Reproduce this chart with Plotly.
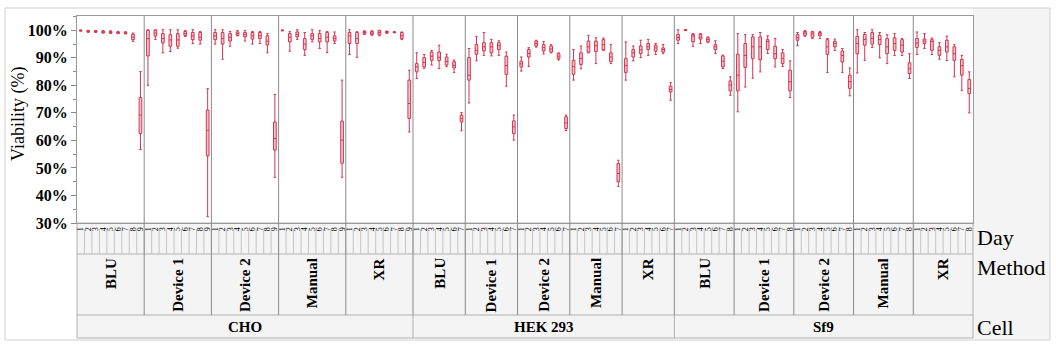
import plotly.graph_objects as go

CELLS = ["CHO", "HEK 293", "Sf9"]
METHODS = ["BLU", "Device 1", "Device 2", "Manual", "XR"]
DAYS = {"CHO": ["1", "2", "3", "4", "5", "6", "7", "8", "9"],
        "HEK 293": ["1", "2", "3", "4", "5", "6", "7"],
        "Sf9": ["1", "2", "3", "4", "5", "6", "7", "8"]}
Y_TICKS = [30, 40, 50, 60, 70, 80, 90, 100]
Y_TICK_TEXT = ["30%", "40%", "50%", "60%", "70%", "80%", "90%", "100%"]

# ---- CHO (methods in order BLU, Device 1, Device 2, Manual, XR; days 1-9) ----
CHO_LO = [99.7, 99.3, 99.2, 99.0, 98.9, 98.8, 98.7, 96.0, 56.7,
          80.0, 96.7, 91.8, 92.3, 93.5, 97.8, 95.2, 95.0, 32.3,
          95.0, 89.5, 94.2, 98.0, 96.1, 95.0, 95.2, 91.8, 46.6,
          99.8, 92.4, 96.7, 90.9, 95.8, 93.4, 91.9, 95.2, 46.6,
          91.2, 90.2, 98.5, 98.2, 98.0, 98.9, 99.1, 96.6, 63.1]
CHO_Q1 = [99.8, 99.4, 99.4, 99.1, 99.0, 98.9, 98.8, 96.6, 62.5,
          90.7, 97.9, 95.4, 94.2, 94.2, 98.1, 96.6, 96.4, 54.4,
          96.6, 95.0, 96.1, 98.2, 97.6, 96.8, 97.0, 94.7, 56.5,
          99.9, 95.8, 97.6, 93.0, 96.7, 95.8, 95.8, 96.1, 51.7,
          95.2, 95.2, 98.7, 98.5, 98.4, 99.1, 99.2, 97.0, 68.0]
CHO_MED = [100.0, 99.7, 99.6, 99.4, 99.3, 99.1, 99.0, 97.5, 69.2,
           97.0, 99.0, 97.0, 96.5, 96.5, 98.8, 98.0, 97.5, 63.7,
           98.0, 97.0, 97.5, 98.8, 98.4, 98.0, 98.0, 96.0, 60.7,
           100.0, 97.5, 98.5, 95.0, 98.0, 97.0, 97.5, 97.0, 60.1,
           98.0, 97.0, 99.2, 99.0, 99.2, 99.4, 99.3, 98.0, 73.4]
CHO_Q3 = [100.0, 99.9, 99.8, 99.7, 99.6, 99.4, 99.3, 98.6, 75.6,
          100.0, 100.0, 98.8, 98.4, 98.8, 99.6, 99.2, 99.2, 71.0,
          99.2, 99.2, 98.8, 99.4, 99.2, 99.2, 99.2, 98.0, 66.7,
          100.0, 98.8, 99.4, 97.0, 98.8, 98.8, 99.2, 98.0, 67.0,
          99.2, 99.2, 99.6, 99.6, 99.9, 99.6, 99.4, 99.2, 81.9]
CHO_HI = [100.1, 100.0, 99.9, 99.9, 99.8, 99.6, 99.5, 99.0, 85.0,
          100.2, 100.2, 100.2, 100.2, 100.2, 99.9, 100.2, 99.6, 78.8,
          100.2, 100.2, 99.6, 99.9, 99.9, 99.6, 99.6, 98.8, 76.7,
          100.1, 99.5, 100.2, 99.2, 100.2, 99.9, 99.6, 99.4, 81.9,
          100.2, 99.5, 99.8, 99.8, 100.0, 99.7, 99.5, 99.4, 85.5]

# ---- HEK 293 (days 1-7) ----
HEK_LO = [82.5, 86.2, 87.4, 86.1, 86.8, 84.7, 63.5,
          73.6, 88.9, 90.9, 90.7, 90.9, 79.7, 60.1,
          85.2, 86.9, 93.9, 91.4, 91.8, 89.2, 63.6,
          81.9, 86.0, 91.8, 87.9, 92.7, 87.9, 43.2,
          81.9, 88.9, 90.1, 90.9, 91.2, 91.5, 74.6]
HEK_Q1 = [84.9, 86.7, 89.1, 89.0, 87.4, 86.3, 66.7,
          81.9, 91.3, 92.5, 91.8, 93.0, 84.0, 62.5,
          86.7, 90.3, 94.3, 92.5, 92.1, 89.7, 64.3,
          84.0, 87.6, 92.1, 92.3, 93.0, 88.6, 45.0,
          84.7, 90.3, 91.5, 93.0, 92.4, 92.1, 77.6]
HEK_MED = [86.7, 88.3, 90.6, 90.2, 88.7, 87.2, 68.0,
           83.7, 92.7, 94.0, 94.0, 94.4, 87.2, 64.9,
           87.8, 91.6, 95.2, 93.7, 93.2, 90.6, 66.4,
           86.8, 89.8, 94.0, 94.4, 94.8, 90.3, 48.0,
           87.2, 91.8, 92.9, 94.0, 93.6, 93.0, 78.5]
HEK_Q3 = [87.9, 90.1, 92.1, 92.1, 90.3, 88.6, 69.2,
          90.1, 94.8, 95.5, 95.5, 95.5, 90.6, 67.1,
          88.8, 93.0, 96.1, 94.8, 94.3, 91.5, 68.6,
          89.1, 91.8, 96.1, 96.1, 96.6, 91.8, 51.6,
          89.7, 93.0, 94.3, 95.2, 94.6, 93.6, 79.7]
HEK_HI = [91.8, 91.2, 92.7, 94.6, 91.3, 89.2, 70.1,
          93.4, 97.8, 99.2, 96.7, 96.2, 92.1, 69.2,
          90.3, 93.7, 96.4, 95.9, 94.8, 91.8, 69.2,
          93.0, 94.3, 98.2, 97.3, 97.2, 94.9, 52.8,
          95.8, 94.3, 96.4, 96.7, 95.2, 94.8, 81.0]

# ---- Sf9 (days 1-8) ----
SF9_LO = [95.2, 99.9, 94.2, 95.2, 95.5, 91.6, 86.1, 76.4,
          70.4, 79.4, 82.6, 84.9, 91.6, 86.7, 86.9, 75.6,
          94.4, 97.8, 97.0, 97.0, 84.7, 92.7, 84.7, 76.2,
          84.5, 89.1, 93.8, 90.0, 87.9, 90.9, 90.9, 82.5,
          91.2, 93.4, 91.2, 89.5, 89.0, 83.1, 78.2, 70.0]
SF9_Q1 = [96.4, 100.0, 95.8, 96.8, 95.8, 93.0, 86.7, 78.0,
          78.0, 86.5, 89.7, 89.3, 93.0, 89.7, 87.9, 78.0,
          96.4, 98.2, 97.5, 98.0, 91.3, 94.0, 88.5, 78.9,
          91.5, 94.6, 95.0, 94.8, 91.5, 92.7, 92.1, 84.3,
          93.8, 95.2, 92.7, 90.9, 92.1, 89.1, 83.7, 77.0]
SF9_MED = [97.4, 100.1, 97.9, 97.5, 96.7, 94.0, 88.8, 80.1,
           83.7, 90.9, 94.0, 94.0, 95.9, 91.5, 89.8, 81.3,
           97.3, 99.0, 98.7, 98.7, 94.0, 95.2, 90.9, 81.3,
           95.2, 96.7, 97.0, 96.7, 94.0, 95.2, 94.6, 86.0,
           95.4, 96.1, 95.9, 92.7, 94.0, 91.5, 87.2, 78.9]
SF9_Q3 = [98.5, 100.2, 98.5, 98.5, 97.3, 94.8, 90.7, 81.6,
          91.3, 95.2, 97.6, 97.6, 96.6, 94.2, 91.8, 85.5,
          98.4, 99.6, 99.4, 99.2, 96.6, 96.0, 92.5, 83.7,
          97.8, 98.5, 99.2, 98.2, 97.0, 97.3, 96.6, 88.2,
          97.0, 96.8, 96.6, 94.0, 96.4, 94.0, 89.4, 82.1]
SF9_HI = [100.2, 100.3, 98.8, 98.8, 97.6, 96.2, 91.0, 83.1,
          98.8, 98.4, 98.4, 99.2, 98.0, 97.0, 93.0, 88.9,
          99.2, 99.9, 99.6, 99.6, 97.0, 96.8, 93.4, 86.3,
          100.2, 99.2, 100.2, 99.2, 98.4, 98.8, 97.0, 91.5,
          99.4, 98.8, 97.2, 95.5, 97.9, 94.8, 90.9, 84.9]

LO = CHO_LO + HEK_LO + SF9_LO
Q1 = CHO_Q1 + HEK_Q1 + SF9_Q1
MED = CHO_MED + HEK_MED + SF9_MED
Q3 = CHO_Q3 + HEK_Q3 + SF9_Q3
HI = CHO_HI + HEK_HI + SF9_HI

# ---- slot positions ----
xs, day_text = [], []
method_spans, cell_spans = [], []
pos = 0
for c in CELLS:
    c_start = pos
    for m in METHODS:
        m_start = pos
        for d in DAYS[c]:
            xs.append(pos)
            day_text.append(d)
            pos += 1
        method_spans.append((m, m_start - 0.5, pos - 0.5))
    cell_spans.append((c, c_start - 0.5, pos - 0.5))
N = pos

# ---- geometry (pixels) ----
W, H = 1056, 351
L, R, T, B = 77, 83, 16, 128
PW, PH = W - L - R, H - T - B


def py(ypix):
    return (H - B - ypix) / PH


def px(xpix):
    return (xpix - L) / PW


SERIF = "Liberation Serif, Times New Roman, serif"
BOX_LINE = "#d4354f"
BAND_BG = "#f4f4f4"

fig = go.Figure()
fig.add_trace(go.Box(
    x=xs, q1=Q1, median=MED, q3=Q3, lowerfence=LO, upperfence=HI,
    boxpoints=False, width=0.36, whiskerwidth=0.9,
    line=dict(color=BOX_LINE, width=1),
    fillcolor="rgba(220,70,95,0.30)", showlegend=False, hoverinfo="skip",
))

shapes = []
# right gray region
shapes.append(dict(type="rect", xref="paper", yref="paper",
                   x0=1, x1=px(1050), y0=py(339), y1=py(8),
                   fillcolor=BAND_BG, line=dict(width=0), layer="below"))
# bands
y_day_top, y_day_bot = py(223), py(254)
y_meth_bot = py(315)
y_cell_bot = py(338)
shapes.append(dict(type="rect", xref="paper", yref="paper",
                   x0=0, x1=1, y0=y_cell_bot, y1=y_day_top,
                   fillcolor=BAND_BG, line=dict(color="#b0b0b0", width=1), layer="below"))
shapes.append(dict(type="line", xref="paper", yref="paper",
                   x0=0, x1=1, y0=y_day_bot, y1=y_day_bot,
                   line=dict(color="#b0b0b0", width=1)))
shapes.append(dict(type="line", xref="paper", yref="paper",
                   x0=0, x1=1, y0=y_meth_bot, y1=y_meth_bot,
                   line=dict(color="#b0b0b0", width=1)))
# day separators
for x in xs:
    shapes.append(dict(type="line", xref="x", yref="paper",
                       x0=x + 0.5, x1=x + 0.5, y0=py(229), y1=y_day_bot,
                       line=dict(color="#c4c4c4", width=1)))
# method separators (plot + bands)
for (m, a, b) in method_spans[:-1]:
    shapes.append(dict(type="line", xref="x", yref="paper",
                       x0=b, x1=b, y0=y_meth_bot, y1=1,
                       line=dict(color="#8a8a8a", width=1)))
for (c, a, b) in cell_spans[:-1]:
    shapes.append(dict(type="line", xref="x", yref="paper",
                       x0=b, x1=b, y0=y_cell_bot, y1=y_meth_bot,
                       line=dict(color="#b0b0b0", width=1)))
# outer frame
shapes.append(dict(type="rect", xref="paper", yref="paper",
                   x0=px(5), x1=px(1050), y0=py(340), y1=py(8),
                   fillcolor="rgba(0,0,0,0)", line=dict(color="#cfcfcf", width=1)))

annotations = []
for (m, a, b) in method_spans:
    annotations.append(dict(x=(a + b) / 2, xref="x", y=py(256), yref="paper",
                            text=m, textangle=-90, showarrow=False,
                            xanchor="center", yanchor="top",
                            font=dict(family=SERIF, size=15, color="#000", weight="bold")))
for (c, a, b) in cell_spans:
    annotations.append(dict(x=(a + b) / 2, xref="x", y=py(326.5), yref="paper",
                            text=c, showarrow=False, xanchor="center", yanchor="middle",
                            font=dict(family=SERIF, size=15, color="#000", weight="bold")))
for (t, yy) in [("Day", 237), ("Method", 267), ("Cell", 327)]:
    annotations.append(dict(x=px(975), xref="paper", y=py(yy), yref="paper",
                            text=t, showarrow=False, xanchor="left", yanchor="middle",
                            font=dict(family=SERIF, size=22, color="#000")))
# y-axis title as annotation (keeps plot area fixed)
annotations.append(dict(x=px(18), xref="paper", y=py(114), yref="paper",
                        text="Viability (%)", textangle=-90, showarrow=False,
                        xanchor="center", yanchor="middle",
                        font=dict(family=SERIF, size=18, color="#000")))

fig.update_layout(
    width=W, height=H,
    margin=dict(l=L, r=R, t=T, b=B, autoexpand=False),
    paper_bgcolor="white", plot_bgcolor="white",
    shapes=shapes, annotations=annotations,
    xaxis=dict(range=[-0.5, N - 0.5], tickmode="array", tickvals=xs, ticktext=day_text,
               tickangle=-90, tickfont=dict(family=SERIF, size=8, color="#000"),
               ticks="", showgrid=False, zeroline=False, automargin=False,
               showline=True, mirror=True, linecolor="#9a9a9a", linewidth=1),
    yaxis=dict(range=[30, 105.2], tickmode="array", tickvals=Y_TICKS, ticktext=Y_TICK_TEXT,
               tickfont=dict(family=SERIF, size=16, color="#000", weight="bold"),
               ticks="outside", ticklen=5, tickcolor="#888", showgrid=False, zeroline=False,
               showline=True, mirror=True, linecolor="#9a9a9a", linewidth=1, automargin=False,
               minor=dict(dtick=5, ticks="outside", ticklen=3, tickcolor="#888")),
)

fig.write_html("out.html")
